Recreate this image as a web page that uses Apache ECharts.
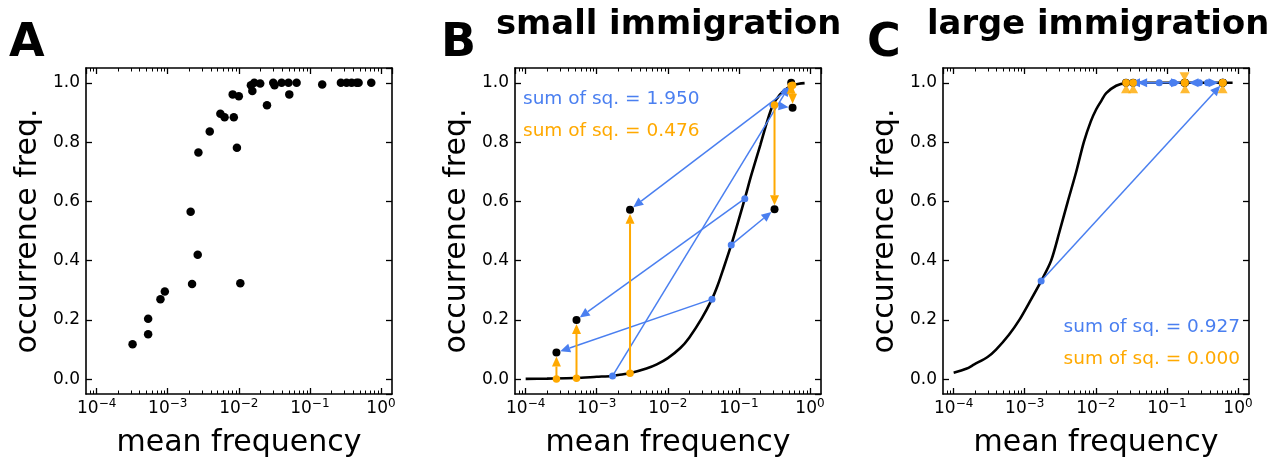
<!DOCTYPE html>
<html>
<head>
<meta charset="utf-8">
<script src="https://cdn.jsdelivr.net/npm/echarts@6/dist/echarts.min.js"></script>
<style>
  html, body { margin: 0; padding: 0; background: #fff; }
  #chart { width: 1279px; height: 461px; }
</style>
</head>
<body>
<div id="chart"></div>
<script>
// ---------- Panel A: measured occurrence frequency vs. mean frequency ----------
const aFreq = [3.2e-4, 5.3e-4, 5.3e-4, 7.9e-4, 9.1e-4, 2.2e-3, 2.1e-3, 2.64e-3, 2.7e-3, 3.9e-3,
               5.5e-3, 6.3e-3, 8.5e-3, 8.2e-3, 0.0100, 9.4e-3, 0.0105, 0.0148, 0.0155, 0.0165,
               0.0200, 0.0249, 0.0305, 0.0318, 0.0400, 0.0500, 0.0513, 0.0650, 0.149, 0.273,
               0.328, 0.386, 0.454, 0.484, 0.730];
const aOcc  = [0.118, 0.152, 0.204, 0.270, 0.296, 0.321, 0.565, 0.420, 0.765, 0.836,
               0.896, 0.884, 0.884, 0.961, 0.955, 0.781, 0.324, 0.992, 0.972, 1.000,
               0.998, 0.924, 1.000, 0.992, 1.000, 1.000, 0.961, 1.000, 0.994, 1.000,
               1.000, 1.000, 1.000, 1.000, 1.000];

// ---------- Panel B: small immigration ----------
const bCurveFreq = [1e-4, 2e-4, 5e-4, 1e-3, 1.67e-3, 2e-3, 3e-3, 5e-3, 7e-3, 0.01, 0.015, 0.02, 0.03,
                    0.0418, 0.05, 0.06, 0.078, 0.10, 0.121, 0.15, 0.20, 0.25, 0.30, 0.35, 0.40,
                    0.50, 0.60, 0.70, 0.84];
const bCurveOcc  = [0.001, 0.002, 0.004, 0.008, 0.011, 0.014, 0.021, 0.036, 0.050, 0.071, 0.105, 0.140, 0.205,
                    0.270, 0.315, 0.370, 0.453, 0.540, 0.609, 0.690, 0.790, 0.870, 0.925, 0.950, 0.967,
                    0.985, 0.993, 0.997, 0.999];
const bObsFreq   = [2.71e-4, 5.19e-4, 2.94e-3, 0.317, 0.544, 0.569];
const bObsOcc    = [0.090, 0.200, 0.572, 0.573, 1.000, 0.916];
const bFitOcc    = [0.001, 0.003, 0.020, 0.925, 0.990, 0.992];   // curve value at observed frequency
const bPredFreq  = [0.0418, 0.121, 0.454, 0.078, 1.67e-3, 0.300]; // predicted (freq, occ) per taxon
const bPredOcc   = [0.270, 0.609, 0.971, 0.453, 0.011, 0.925];

// ---------- Panel C: large immigration ----------
const cCurveFreq = [1e-4, 1.5e-4, 1.95e-4, 3e-4, 3.95e-4, 6e-4, 8.4e-4, 1.2e-3, 1.7e-3, 2.35e-3, 3.1e-3,
                    4.04e-3, 5.3e-3, 6.78e-3, 8.5e-3, 0.0101, 0.012, 0.014, 0.0193, 0.0267, 0.04,
                    0.10, 0.30, 0.84];
const cCurveOcc  = [0.022, 0.035, 0.050, 0.075, 0.100, 0.150, 0.200, 0.265, 0.331, 0.400, 0.500,
                    0.600, 0.700, 0.800, 0.870, 0.910, 0.940, 0.965, 0.990, 0.999, 1.000,
                    1.000, 1.000, 1.000];
const cObsFreq   = [0.0266, 0.0335, 0.177, 0.180, 0.607, 0.615];
const cObsOcc    = [1.000, 1.000, 1.000, 1.000, 1.000, 1.000];
const cFitOcc    = [1.000, 1.000, 1.000, 1.000, 1.000, 1.000];
const cPredFreq  = [0.120, 0.078, 0.286, 0.125, 0.374, 1.7e-3];
const cPredOcc   = [1.000, 1.000, 1.000, 1.000, 1.000, 0.331];
const cHeadUpFreq   = [0.0266, 0.0335, 0.180, 0.607];
const cHeadDownFreq = [0.177];

// ---------- Text ----------
const panelLetters = ['A', 'B', 'C'];
const panelTitles  = ['', 'small immigration', 'large immigration'];
const sumTexts = {
  B: ['sum of sq. = 1.950', 'sum of sq. = 0.476'],
  C: ['sum of sq. = 0.927', 'sum of sq. = 0.000']
};
const xName = 'mean frequency';
const yName = 'occurrence freq.';

// ---------- Style ----------
const FONT = 'DejaVu Sans';
const BLUE = '#4a7ff0';
const ORANGE = '#ffa900';
const X_MIN = Math.pow(10, -4.15);
const X_MAX = Math.pow(10, 0.155);
const Y_MIN = -0.05, Y_MAX = 1.05;
const GRID_LEFT = [86, 515, 943];
const GRID_TOP = 68, GRID_W = 306, GRID_H = 326;
const MINOR_STEPS = [2, 3, 4, 5, 6, 7, 8, 9];

const zip = (xs, ys) => xs.map((x, i) => [x, ys[i]]);
const segs = (x1, y1, x2, y2) => x1.map((x, i) => [x, y1[i], x2[i], y2[i]]);

const lineStyle = { color: '#000', width: 1.6 };
const tickStyle = { color: '#000', width: 1.3 };

const grids = GRID_LEFT.map(l => ({ left: l, top: GRID_TOP, width: GRID_W, height: GRID_H, outerBoundsMode: 'none' }));

const xAxes = [], yAxes = [];
GRID_LEFT.forEach((_, g) => {
  xAxes.push({
    gridIndex: g, type: 'log', logBase: 10, min: X_MIN, max: X_MAX, position: 'bottom',
    axisLine: { show: true, onZero: false, lineStyle },
    axisTick: { show: true, inside: true, length: 6, lineStyle: tickStyle },
    splitLine: { show: false },
    axisLabel: {
      showMinLabel: false, showMaxLabel: false, margin: 4,
      formatter: v => '{b|10}{s|' + String(Math.round(Math.log10(v))).replace('-', '\u2212') + '}',
      rich: {
        b: { fontSize: 17, fontFamily: FONT, color: '#000' },
        s: { fontSize: 12, fontFamily: FONT, color: '#000', padding: [0, 0, 10, 0] }
      }
    },
    name: xName, nameLocation: 'middle', nameGap: 34,
    nameTextStyle: { fontSize: 30, fontFamily: FONT, color: '#000' }
  });
  xAxes.push({
    gridIndex: g, type: 'log', logBase: 10, min: X_MIN, max: X_MAX, position: 'top',
    axisLine: { show: true, onZero: false, lineStyle },
    axisTick: { show: true, inside: true, length: 6, lineStyle: tickStyle },
    splitLine: { show: false }, axisLabel: { show: false }
  });
  yAxes.push({
    gridIndex: g, type: 'value', min: Y_MIN, max: Y_MAX, splitNumber: 5, position: 'left',
    axisLine: { show: true, onZero: false, lineStyle },
    axisTick: { show: true, inside: true, length: 6, lineStyle: tickStyle },
    splitLine: { show: false },
    axisLabel: {
      showMinLabel: false, showMaxLabel: false, margin: 6,
      fontSize: 17, fontFamily: FONT, color: '#000',
      formatter: v => v.toFixed(1)
    },
    name: yName, nameLocation: 'middle', nameGap: 43,
    nameTextStyle: { fontSize: 30, fontFamily: FONT, color: '#000' }
  });
  yAxes.push({
    gridIndex: g, type: 'value', min: Y_MIN, max: Y_MAX, splitNumber: 5, position: 'right',
    axisLine: { show: true, onZero: false, lineStyle },
    axisTick: { show: true, inside: true, length: 6, lineStyle: tickStyle },
    splitLine: { show: false }, axisLabel: { show: false }
  });
});

// minor log ticks on bottom and top of each frame
function minorTicks(g) {
  return {
    type: 'custom', xAxisIndex: 2 * g, yAxisIndex: 2 * g, silent: true, z: 20,
    data: [[0.01, 0.5]],
    renderItem(params, api) {
      const cs = params.coordSys;
      const children = [];
      for (let e = -5; e <= 0; e++) {
        MINOR_STEPS.forEach(m => {
          const v = m * Math.pow(10, e);
          if (v <= X_MIN || v >= X_MAX) return;
          const px = Math.round(api.coord([v, 0.5])[0]) + 0.5;
          const st = { stroke: '#000', lineWidth: 1 };
          children.push({ type: 'line', shape: { x1: px, y1: cs.y + cs.height, x2: px, y2: cs.y + cs.height - 3.5 }, style: st });
          children.push({ type: 'line', shape: { x1: px, y1: cs.y, x2: px, y2: cs.y + 3.5 }, style: st });
        });
      }
      return { type: 'group', children };
    }
  };
}

// arrows from (x1, y1) to (x2, y2), head stopping short of the target marker
const HEAD_LEN = 10, HEAD_HW = 4.5, SHRINK = 4;
function arrows(g, data, color, width, z) {
  return {
    type: 'custom', xAxisIndex: 2 * g, yAxisIndex: 2 * g, silent: true, z,
    data, encode: { x: [0, 2], y: [1, 3] },
    renderItem(params, api) {
      const p1 = api.coord([api.value(0), api.value(1)]);
      const p2 = api.coord([api.value(2), api.value(3)]);
      const dx = p2[0] - p1[0], dy = p2[1] - p1[1];
      const d = Math.hypot(dx, dy) || 1;
      const ux = dx / d, uy = dy / d, nx = -uy, ny = ux;
      const tipD = Math.max(d - SHRINK, 2);
      const tip = [p1[0] + ux * tipD, p1[1] + uy * tipD];
      const base = [tip[0] - ux * HEAD_LEN, tip[1] - uy * HEAD_LEN];
      const children = [];
      if (tipD > HEAD_LEN) {
        children.push({ type: 'line', shape: { x1: p1[0], y1: p1[1], x2: base[0], y2: base[1] },
                        style: { stroke: color, lineWidth: width } });
      }
      children.push({ type: 'polygon',
        shape: { points: [tip, [base[0] + nx * HEAD_HW, base[1] + ny * HEAD_HW], [base[0] - nx * HEAD_HW, base[1] - ny * HEAD_HW]] },
        style: { fill: color } });
      return { type: 'group', children };
    }
  };
}

function dots(g, data, color, size, z) {
  return { type: 'scatter', xAxisIndex: 2 * g, yAxisIndex: 2 * g, data, symbol: 'circle', symbolSize: size,
           itemStyle: { color, opacity: 1 }, z, silent: true };
}
function curve(g, data) {
  return { type: 'line', xAxisIndex: 2 * g, yAxisIndex: 2 * g, data, showSymbol: false, symbol: 'none',
           smooth: 0.3, lineStyle: { color: '#000', width: 2.6 }, z: 2, silent: true };
}

const series = [
  minorTicks(0), minorTicks(1), minorTicks(2),
  // A
  dots(0, zip(aFreq, aOcc), '#000', 8.5, 3),
  // B
  curve(1, zip(bCurveFreq, bCurveOcc)),
  dots(1, zip(bObsFreq, bObsOcc), '#000', 8, 3),
  arrows(1, segs(bPredFreq, bPredOcc, bObsFreq, bObsOcc), BLUE, 1.5, 4),
  dots(1, zip(bPredFreq, bPredOcc), BLUE, 7, 5),
  arrows(1, segs(bObsFreq, bFitOcc, bObsFreq, bObsOcc), ORANGE, 2, 6),
  dots(1, zip(bObsFreq, bFitOcc), ORANGE, 7.5, 7),
  // C
  curve(2, zip(cCurveFreq, cCurveOcc)),
  dots(2, zip(cObsFreq, cObsOcc), '#000', 8, 3),
  arrows(2, segs(cPredFreq, cPredOcc, cObsFreq, cObsOcc), BLUE, 1.5, 4),
  dots(2, zip(cPredFreq, cPredOcc), BLUE, 7, 5),
  dots(2, zip(cObsFreq, cFitOcc), ORANGE, 7.5, 7),
  { type: 'scatter', xAxisIndex: 4, yAxisIndex: 4, data: cHeadUpFreq.map(x => [x, 1.0]), symbol: 'triangle',
    symbolSize: [10, 9], symbolOffset: [0, 6], itemStyle: { color: ORANGE }, z: 8, silent: true },
  { type: 'scatter', xAxisIndex: 4, yAxisIndex: 4, data: cHeadDownFreq.map(x => [x, 1.0]), symbol: 'triangle',
    symbolRotate: 180, symbolSize: [10, 9], symbolOffset: [0, -6], itemStyle: { color: ORANGE }, z: 8, silent: true }
];

const graphic = [];
const letterX = [9, 441, 867];
panelLetters.forEach((t, i) => graphic.push({
  type: 'text', x: letterX[i], y: 44,
  style: { text: t, font: 'bold 46px "' + FONT + '"', fill: '#000', textAlign: 'left', textVerticalAlign: 'middle' }
}));
const titleX = [0, 496, 927];
panelTitles.forEach((t, i) => { if (t) graphic.push({
  type: 'text', x: titleX[i], y: 25,
  style: { text: t, font: 'bold 33.8px "' + FONT + '"', fill: '#000', textAlign: 'left', textVerticalAlign: 'middle' }
}); });
graphic.push(
  { type: 'text', x: 523, y: 99, style: { text: sumTexts.B[0], font: '18.5px "' + FONT + '"', fill: BLUE, textAlign: 'left', textVerticalAlign: 'middle' } },
  { type: 'text', x: 523, y: 131, style: { text: sumTexts.B[1], font: '18.5px "' + FONT + '"', fill: ORANGE, textAlign: 'left', textVerticalAlign: 'middle' } },
  { type: 'text', x: 1240, y: 327, style: { text: sumTexts.C[0], font: '18.5px "' + FONT + '"', fill: BLUE, textAlign: 'right', textVerticalAlign: 'middle' } },
  { type: 'text', x: 1240, y: 359, style: { text: sumTexts.C[1], font: '18.5px "' + FONT + '"', fill: ORANGE, textAlign: 'right', textVerticalAlign: 'middle' } }
);

const chart = echarts.init(document.getElementById('chart'), null, { renderer: 'canvas' });
chart.setOption({
  animation: false,
  backgroundColor: '#fff',
  grid: grids,
  xAxis: xAxes,
  yAxis: yAxes,
  series,
  graphic
});
</script>
</body>
</html>
